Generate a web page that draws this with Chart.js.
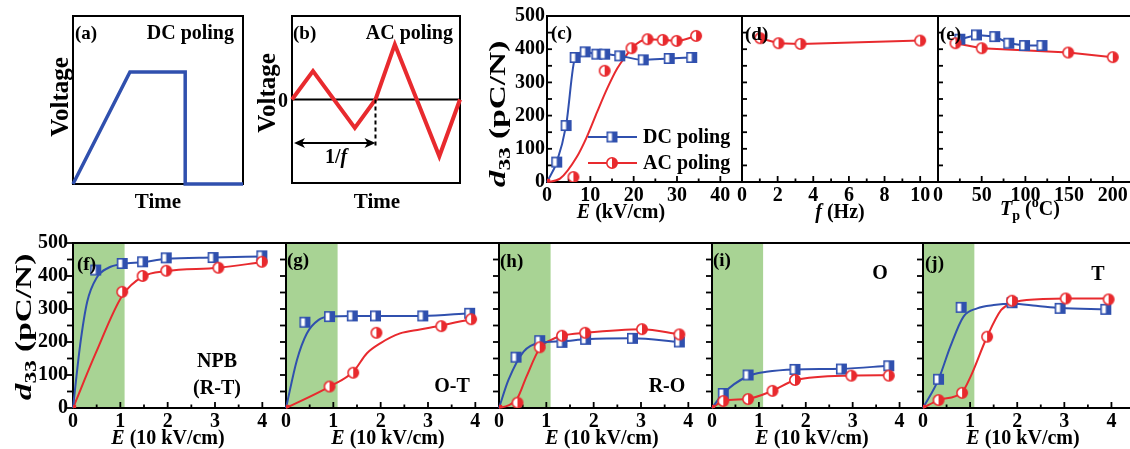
<!DOCTYPE html>
<html>
<head>
<meta charset="utf-8">
<script src="https://cdn.jsdelivr.net/npm/chart.js@4"></script>
<style>
body { margin: 0; background: #fff; }
#fig { position: relative; width: 1130px; height: 449px; overflow: hidden; font-family: "Liberation Serif", serif; font-weight: bold; color: #000; }
#fig canvas { position: absolute; z-index: 1; }
.c, .l, .r { position: absolute; white-space: nowrap; line-height: 1; z-index: 2; font-size: 20px; }
.c { transform: translate(-50%, -50%); }
.l { transform: translateY(-50%); font-size: 19px; }
.r { transform: translate(-100%, -50%); }
.v { transform: translate(-50%, -50%) rotate(-90deg); }
.d33 { font-size: 23px; transform: translate(-50%, -50%) rotate(-90deg) scaleX(1.45); }
sub, sup { font-size: 70%; line-height: 0; }
</style>
</head>
<body>
<div id="fig">
  <div class="c v" style="left:59px;top:97px;font-size:25px">Voltage</div>
  <div class="c v" style="left:266px;top:93px;font-size:25px">Voltage</div>
  <div class="c" style="left:283px;top:100px">0</div>
  <div class="c" style="left:158px;top:201px;font-size:21px">Time</div>
  <div class="c" style="left:377px;top:201px;font-size:21px">Time</div>
  <div class="l" style="left:75px;top:32px">(a)</div>
  <div class="r" style="left:234px;top:32px">DC poling</div>
  <div class="l" style="left:293px;top:32px">(b)</div>
  <div class="r" style="left:453px;top:32px">AC poling</div>
  <div class="c" style="left:336px;top:156px">1/<i>f</i></div>

  <div class="c d33" style="left:497px;top:114px"><i>d</i><sub>33</sub> (pC/N)</div>
  <div class="c d33" style="left:23px;top:327px"><i>d</i><sub>33</sub> (pC/N)</div>

  <div class="l" style="left:551px;top:32px">(c)</div>
  <div class="l" style="left:745px;top:33px">(d)</div>
  <div class="l" style="left:940px;top:33px">(e)</div>
  <div class="c" style="left:621px;top:211px"><i>E</i> (kV/cm)</div>
  <div class="c" style="left:840px;top:211px"><i>f</i> (Hz)</div>
  <div class="c" style="left:1030px;top:208px"><i>T</i><sub>p</sub> (<sup>o</sup>C)</div>

  <div class="l" style="left:77px;top:263px">(f)</div>
  <div class="l" style="left:287px;top:259px">(g)</div>
  <div class="l" style="left:500px;top:260px">(h)</div>
  <div class="l" style="left:713px;top:259px">(i)</div>
  <div class="l" style="left:925px;top:262px">(j)</div>
  <div class="c" style="left:168px;top:437px"><i>E</i> (10 kV/cm)</div>
  <div class="c" style="left:388px;top:437px"><i>E</i> (10 kV/cm)</div>
  <div class="c" style="left:602px;top:437px"><i>E</i> (10 kV/cm)</div>
  <div class="c" style="left:812px;top:437px"><i>E</i> (10 kV/cm)</div>
  <div class="c" style="left:1023px;top:437px"><i>E</i> (10 kV/cm)</div>
  <div class="c" style="left:217px;top:360px">NPB</div>
  <div class="c" style="left:217px;top:387px">(R-T)</div>
  <div class="c" style="left:452px;top:385px">O-T</div>
  <div class="c" style="left:667px;top:385px">R-O</div>
  <div class="c" style="left:880px;top:272px">O</div>
  <div class="c" style="left:1098px;top:273px">T</div>
</div>
<script>
// (a) DC poling waveform, (b) AC poling waveform
const dcTime = [0, 3.35, 6.6, 6.6, 10];
const dcVolt = [0, 6.67, 6.67, 0, 0];
const acTime = [0, 1.25, 3.74, 4.97, 6.12, 8.77, 10];
const acVolt = [0, 0.34, -0.34, 0, 0.66, -0.68, 0];
const acPeriod = 4.97;
const arrowLevel = -0.52;

// (c) d33 vs E
const cDcE = [2.25, 4.4, 6.5, 8.8, 11.5, 13.3, 16.8, 22.2, 28.2, 33.4];
const cDcD = [60, 170, 375, 392, 385, 385, 380, 368, 372, 375];
const cDcFitE = [0, 2.25, 4.4, 6.5, 8.8, 11.5, 13.3, 16.8, 22.2, 28.2, 33.4];
const cDcFitD = [0, 60, 170, 375, 392, 385, 385, 380, 368, 372, 375];
const cAcE = [6.1, 13.3, 19.5, 23.2, 26.7, 29.9, 34.4];
const cAcD = [15, 335, 403, 430, 428, 425, 440];
const cAcFitE = [0, 3, 6.9, 9.2, 11.6, 13.9, 16.2, 18.5, 19.5, 23.2, 26.7, 29.9, 34.4];
const cAcFitD = [0, 10, 76, 136, 212, 282, 342, 385, 403, 430, 428, 425, 440];

// (d) d33 vs f
const dAcF = [1.02, 2.05, 3.28, 10.0];
const dAcD = [433, 418, 416, 426];

// (e) d33 vs Tp
const eDcT = [25, 44, 65, 81, 99, 119];
const eDcD = [430, 443, 438, 418, 411, 411];
const eAcT = [20, 50, 149, 200];
const eAcD = [418, 403, 390, 376];

// (f)-(j) d33 vs E (10 kV/cm)
const fDcE = [0.48, 1.04, 1.47, 1.97, 2.96, 3.99];
const fDcD = [418, 438, 443, 455, 456, 461];
const fDcFitE = [0, 0.15, 0.3, 0.5, 0.75, 1.04, 1.47, 1.97, 2.96, 3.99];
const fDcFitD = [0, 190, 322, 395, 425, 436, 442, 452, 456, 459];
const fAcE = [1.04, 1.47, 1.97, 3.07, 3.99];
const fAcD = [352, 400, 416, 425, 443];
const fAcFitE = [0, 0.48, 1.04, 1.47, 1.97, 3.07, 3.99];
const fAcFitD = [0, 166, 340, 398, 415, 425, 442];

const gDcE = [0.40, 0.92, 1.40, 1.89, 2.89, 3.88];
const gDcD = [260, 277, 279, 279, 279, 287];
const gDcFitE = [0, 0.23, 0.44, 0.69, 0.92, 1.40, 1.89, 2.89, 3.88];
const gDcFitD = [0, 145, 226, 267, 277, 279, 279, 279, 287];
const gAcE = [0.92, 1.42, 1.91, 3.28, 3.91];
const gAcD = [65, 107, 228, 248, 269];
const gAcFitE = [0, 0.92, 1.42, 1.71, 1.99, 2.41, 2.83, 3.28, 3.91];
const gAcFitD = [0, 65, 110, 166, 196, 226, 238, 250, 269];

const hDcE = [0.36, 0.86, 1.33, 1.83, 2.82, 3.81];
const hDcD = [154, 204, 199, 208, 211, 200];
const hDcFitE = [0, 0.2, 0.52, 0.86, 1.33, 1.83, 2.82, 3.81];
const hDcFitD = [0, 85, 171, 198, 202, 208, 211, 200];
const hAcE = [0.39, 0.86, 1.33, 1.82, 3.02, 3.81];
const hAcD = [16, 184, 219, 228, 239, 223];
const hAcFitE = [0, 0.2, 0.39, 0.58, 0.86, 1.09, 1.33, 1.82, 3.02, 3.81];
const hAcFitD = [0, 8, 30, 95, 181, 206, 219, 228, 239, 223];

const iDcE = [0.24, 0.77, 1.77, 2.76, 3.77];
const iDcD = [44, 100, 117, 118, 128];
const iDcFitE = [0, 0.24, 0.77, 1.16, 1.77, 2.76, 3.77];
const iDcFitD = [0, 44, 97, 110, 117, 119, 128];
const iAcE = [0.24, 0.77, 1.29, 1.77, 2.97, 3.77];
const iAcD = [21, 27, 52, 85, 98, 98];
const iAcFitE = [0, 0.24, 0.77, 1.29, 1.77, 2.97, 3.77];
const iAcFitD = [0, 21, 28, 52, 84, 98, 99];

const jDcE = [0.33, 0.81, 1.89, 2.91, 3.88];
const jDcD = [87, 305, 319, 302, 299];
const jDcFitE = [0, 0.33, 0.58, 0.86, 1.15, 1.5, 1.89, 2.4, 2.91, 3.88];
const jDcFitD = [0, 87, 186, 277, 302, 312, 316, 310, 303, 299];
const jAcE = [0.33, 0.83, 1.36, 1.89, 3.03, 3.94];
const jAcD = [24, 46, 216, 325, 332, 329];
const jAcFitE = [0, 0.33, 0.83, 1.01, 1.36, 1.66, 1.89, 2.2, 3.03, 3.94];
const jAcFitD = [0, 24, 48, 95, 216, 297, 318, 327, 332, 332];

const bandEnd = 1.09;

// tick labels
const d33Ticks = [0, 100, 200, 300, 400, 500];
const cTicks = [0, 10, 20, 30, 40];
const dTicks = [0, 2, 4, 6, 8, 10];
const eTicks = [0, 50, 100, 150, 200];
const eBottomTicks = [0, 1, 2, 3, 4];

const blue = '#3050ae';
const red = '#e82a2e';
const green = '#a8d394';
const tickFont = { family: 'Liberation Serif', size: 20, weight: 'bold' };
const PL = 80, PR = 30, PT = 20, PB = 40, XH = 30, YW = 40;

const fig = document.querySelector('#fig');
const pts = (xs, ys) => xs.map((x, i) => ({ x, y: ys[i] }));

const halfSquare = (size, color) => {
    const c = document.createElement('canvas');
    c.width = c.height = size + 2;
    const g = c.getContext('2d');
    g.fillStyle = '#fff';
    g.fillRect(1, 1, size, size);
    g.fillStyle = color;
    g.fillRect(1 + size / 2, 1, size / 2, size);
    g.strokeStyle = color;
    g.lineWidth = 1.6;
    g.strokeRect(1.8, 1.8, size - 1.6, size - 1.6);
    return c;
};
const halfCircle = (size, color) => {
    const c = document.createElement('canvas');
    c.width = c.height = size + 2;
    const g = c.getContext('2d');
    const m = size / 2 + 1, r = size / 2 - 0.8;
    g.fillStyle = '#fff';
    g.beginPath(); g.arc(m, m, r, 0, Math.PI * 2); g.fill();
    g.fillStyle = color;
    g.beginPath(); g.arc(m, m, r, -Math.PI / 2, Math.PI / 2); g.closePath(); g.fill();
    g.strokeStyle = color;
    g.lineWidth = 1.6;
    g.beginPath(); g.arc(m, m, r, 0, Math.PI * 2); g.stroke();
    return c;
};
const sqMark = halfSquare(11, blue);
const ciMark = halfCircle(12, red);

const seg = (ctx, x0, y0, x1, y1) => { ctx.beginPath(); ctx.moveTo(x0, y0); ctx.lineTo(x1, y1); ctx.stroke(); };

const deco = {
    id: 'deco',
    beforeDatasetsDraw(chart, args, o) {
        const { ctx, chartArea: a, scales: { x, y } } = chart;
        ctx.save();
        if (o.band) {
            ctx.fillStyle = green;
            ctx.fillRect(a.left, a.top, x.getPixelForValue(o.band) - a.left, a.bottom - a.top);
        }
        ctx.strokeStyle = '#000';
        ctx.lineWidth = 2;
        if (o.zero) {
            const yz = y.getPixelForValue(0);
            seg(ctx, a.left, yz, a.right, yz);
        }
        ctx.strokeRect(a.left, a.top, a.right - a.left, a.bottom - a.top);
        ctx.lineWidth = 1.8;
        if (o.xt) {
            for (let v = x.min; v <= x.max + 1e-9; v += o.xt[0]) {
                const px = x.getPixelForValue(v);
                const major = Math.abs(v / o.xt[1] - Math.round(v / o.xt[1])) < 1e-6;
                seg(ctx, px, a.bottom, px, a.bottom - (major ? 6 : 3.5));
            }
        }
        if (o.yt) {
            for (let v = y.min; v <= y.max + 1e-9; v += o.yt) {
                const py = y.getPixelForValue(v);
                if (o.yOut) seg(ctx, a.left - 6, py, a.left, py);
                else seg(ctx, a.left, py, a.left + 5, py);
            }
        }
        ctx.restore();
    }
};
Chart.register(deco);

const marks = (xs, ys, img) => ({
    data: pts(xs, ys), showLine: false, pointStyle: img, pointRadius: 6
});
const curve = (xs, ys, color, width = 2, smooth = true) => ({
    data: pts(xs, ys), showLine: true, pointRadius: 0, borderColor: color, borderWidth: width,
    cubicInterpolationMode: smooth ? 'monotone' : 'default', tension: 0, clip: false
});
const origin = () => ({
    data: [{ x: 0, y: 0 }], showLine: false, pointStyle: 'rect', pointRadius: 4.5,
    backgroundColor: red, borderColor: red, borderWidth: 0
});

const panel = (rect, o) => {
    const [l, r, t, b] = rect;
    const showX = !!o.xTicks, showY = !!o.yTicks;
    const c = document.createElement('canvas');
    c.width = r - l + PL + PR;
    c.height = b - t + PT + PB;
    c.style.left = (l - PL) + 'px';
    c.style.top = (t - PT) + 'px';
    fig.appendChild(c);
    const axis = (min, max, ticks, horiz, pad) => ({
        type: 'linear', min, max, display: !!ticks,
        grid: { display: false, drawTicks: false }, border: { display: false },
        afterFit: s => { if (horiz) s.height = ticks ? XH : 0; else s.width = ticks ? YW : 0; },
        afterBuildTicks: s => { if (ticks) s.ticks = ticks.map(v => ({ value: v })); },
        ticks: { font: tickFont, color: '#000', padding: pad, maxRotation: 0, autoSkip: false }
    });
    return new Chart(c, {
        type: 'scatter',
        data: { datasets: o.datasets },
        options: {
            responsive: false, animation: false, devicePixelRatio: 1,
            layout: { autoPadding: false, padding: { left: showY ? PL - YW : PL, right: PR, top: PT, bottom: showX ? PB - XH : PB } },
            plugins: { legend: { display: false }, tooltip: { enabled: false }, deco: o.deco || {} },
            scales: {
                x: axis(o.x[0], o.x[1], o.xTicks, true, 2),
                y: axis(o.y[0], o.y[1], o.yTicks, false, o.yPad || 2)
            }
        },
        plugins: o.plugins || []
    });
};

// (a)
panel([73, 243, 16, 184], {
    x: [0, 10], y: [0, 10],
    datasets: [curve(dcTime, dcVolt, blue, 3.5, false)]
});

// (b)
const periodArrow = {
    id: 'periodArrow',
    afterDatasetsDraw(chart) {
        const { ctx, scales: { x, y } } = chart;
        const x0 = x.getPixelForValue(0) + 2, x1 = x.getPixelForValue(acPeriod);
        const yz = y.getPixelForValue(0), ya = y.getPixelForValue(arrowLevel);
        ctx.save();
        ctx.strokeStyle = '#000';
        ctx.fillStyle = '#000';
        ctx.lineWidth = 2;
        ctx.setLineDash([4, 3]);
        seg(ctx, x1, yz, x1, ya + 4);
        ctx.setLineDash([]);
        seg(ctx, x0 + 6, ya, x1 - 6, ya);
        [[x0, 1], [x1, -1]].forEach(([px, d]) => {
            ctx.beginPath();
            ctx.moveTo(px, ya);
            ctx.lineTo(px + 11 * d, ya - 5);
            ctx.lineTo(px + 8 * d, ya);
            ctx.lineTo(px + 11 * d, ya + 5);
            ctx.closePath();
            ctx.fill();
        });
        ctx.restore();
    }
};
panel([292, 460, 16, 183], {
    x: [0, 10], y: [-1, 1],
    deco: { zero: true },
    datasets: [curve(acTime, acVolt, red, 4, false)],
    plugins: [periodArrow]
});

// (c) with legend
const cLegend = {
    id: 'cLegend',
    afterDatasetsDraw(chart) {
        const { ctx, chartArea: a } = chart;
        ctx.save();
        ctx.font = 'bold 20px "Liberation Serif"';
        ctx.textBaseline = 'middle';
        ctx.fillStyle = '#000';
        [[121, blue, sqMark, 'DC poling'], [147, red, ciMark, 'AC poling']].forEach(([dy, col, img, label]) => {
            const yy = a.top + dy;
            ctx.strokeStyle = col;
            ctx.lineWidth = 2;
            seg(ctx, a.left + 41, yy, a.left + 90, yy);
            ctx.drawImage(img, a.left + 65 - img.width / 2, yy - img.height / 2);
            ctx.fillText(label, a.left + 96, yy + 1);
        });
        ctx.restore();
    }
};
panel([547, 742, 16, 182], {
    x: [0, 45], y: [0, 500], xTicks: cTicks, yTicks: d33Ticks, yPad: 2,
    deco: { xt: [5, 10], yt: 50 },
    datasets: [
        marks(cAcE, cAcD, ciMark), marks(cDcE, cDcD, sqMark), origin(),
        curve(cDcFitE, cDcFitD, blue), curve(cAcFitE, cAcFitD, red)
    ],
    plugins: [cLegend]
});

// (d)
panel([742, 938, 16, 182], {
    x: [0, 11], y: [0, 500], xTicks: dTicks,
    deco: { xt: [1, 2], yt: 50 },
    datasets: [marks(dAcF, dAcD, ciMark), curve(dAcF, dAcD, red, 2, false)]
});

// (e)
panel([938, 1132, 16, 182], {
    x: [0, 222], y: [0, 500], xTicks: eTicks,
    deco: { xt: [25, 50], yt: 50 },
    datasets: [
        marks(eAcT, eAcD, ciMark), marks(eDcT, eDcD, sqMark),
        curve(eDcT, eDcD, blue, 2, false), curve(eAcT, eAcD, red, 2, false)
    ]
});

// (f)-(j)
const bottom = [
    [[73, 286, 243, 408], fDcE, fDcD, fDcFitE, fDcFitD, fAcE, fAcD, fAcFitE, fAcFitD],
    [[286, 499, 243, 408], gDcE, gDcD, gDcFitE, gDcFitD, gAcE, gAcD, gAcFitE, gAcFitD],
    [[499, 712, 243, 408], hDcE, hDcD, hDcFitE, hDcFitD, hAcE, hAcD, hAcFitE, hAcFitD],
    [[712, 923, 243, 408], iDcE, iDcD, iDcFitE, iDcFitD, iAcE, iAcD, iAcFitE, iAcFitD],
    [[923, 1135, 243, 408], jDcE, jDcD, jDcFitE, jDcFitD, jAcE, jAcD, jAcFitE, jAcFitD]
];
bottom.forEach(([rect, dcE, dcD, dcFE, dcFD, acE, acD, acFE, acFD], i) => {
    panel(rect, {
        x: [0, 4.5], y: [0, 500], xTicks: eBottomTicks, yTicks: i === 0 ? d33Ticks : null, yPad: 5,
        deco: { band: bandEnd, xt: [0.5, 1], yt: 50, yOut: true },
        datasets: [
            origin(), marks(acE, acD, ciMark), marks(dcE, dcD, sqMark),
            curve(dcFE, dcFD, blue), curve(acFE, acFD, red)
        ]
    });
});
</script>
</body>
</html>
